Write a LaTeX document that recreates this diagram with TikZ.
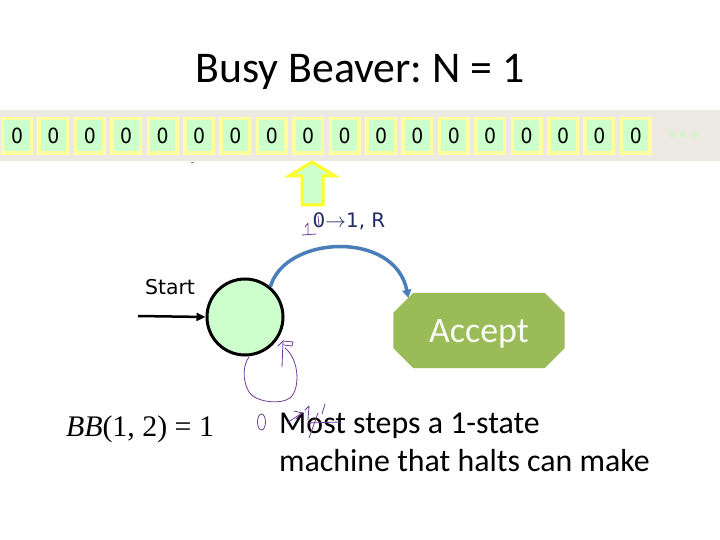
\documentclass[tikz,border=0pt]{standalone}
\usepackage{fontspec}
\setmainfont{Carlito}
\newfontfamily\vfont{DejaVu Sans}
\newfontfamily\vcfont{DejaVu Sans Condensed}
\newfontfamily\serifont{Liberation Serif}
\usetikzlibrary{arrows.meta,backgrounds}
\definecolor{tapebg}{RGB}{236,233,226}
\definecolor{cellyel}{RGB}{255,255,160}
\definecolor{cellgrn}{RGB}{204,255,204}
\definecolor{headyel}{RGB}{255,255,40}
\definecolor{stategrn}{RGB}{204,255,204}
\definecolor{acceptgrn}{RGB}{155,187,89}
\definecolor{arcblue}{RGB}{74,126,187}
\definecolor{labnavy}{RGB}{30,45,100}
\definecolor{inkpurple}{RGB}{112,60,150}
\definecolor{dotgrn}{RGB}{212,245,200}
\frenchspacing
\begin{document}
\begin{tikzpicture}[x=1bp,y=-1bp,
  cell/.style={draw=cellyel, line width=3.5bp, fill=cellgrn, minimum width=28.5bp,
    minimum height=34.5bp, inner sep=0pt, font=\vcfont\fontsize{21}{21}\selectfont},
  statenode/.style={circle, draw=black, line width=3bp, fill=stategrn,
    minimum size=76bp, inner sep=0pt},
  acceptnode/.style={rectangle, minimum width=171bp,
    minimum height=75bp, inner sep=0pt, text depth=0pt,
    text=white!94!acceptgrn, font=\fontsize{36}{36}\selectfont},
  inkline/.style={draw=inkpurple, line width=0.8bp, line cap=round, line join=round},
  plaintext/.style={inner sep=0pt}]
\useasboundingbox (0,0) rectangle (720,540);
\begin{scope}[on background layer]
\fill[white] (0,0) rectangle (720,540);
\end{scope}
% title
\node[plaintext, anchor=base, font=\fontsize{44}{44}\selectfont] (title) at (360,83) {Busy Beaver: N = 1};
% tape
\fill[tapebg] (0,110) rectangle (720,161);
\foreach \i in {0,...,17}{
  \node[cell] (c\i) at ({17+36.4*\i},136) {0};
}
\foreach \x in {672,683,695}{ \fill[dotgrn] (\x,135) circle (3); }
\draw[gray, line width=1bp] (191,163) -- (194,163);
% head
\draw[draw=headyel, fill=cellgrn, line width=3bp, line join=miter]
  (312,162) -- (335,176) -- (323,176) -- (323,205) -- (302,205) -- (302,176) -- (289,176) -- cycle;
% label
\node[plaintext, font=\vfont\fontsize{20}{20}\selectfont, text=labnavy] (tl) at (349,221) {0$\rightarrow$1, R};
% states
\node[statenode] (s) at (245,317) {};
\node[acceptnode] (acc) at (479,330.5) {Accept};
\begin{scope}[on background layer]
\fill[acceptgrn] ([xshift=20bp]acc.north west) -- ([xshift=-20bp]acc.north east)
  -- ([yshift=-20bp]acc.north east) -- ([yshift=20bp]acc.south east)
  -- ([xshift=-20bp]acc.south east) -- ([xshift=20bp]acc.south west)
  -- ([yshift=20bp]acc.south west) -- ([yshift=-20bp]acc.north west) -- cycle;
\end{scope}
\coordinate (accin) at ([xshift=15bp,yshift=-5bp]acc.north west);
\node[plaintext, font=\vfont\fontsize{20.5}{20.5}\selectfont] (startlbl) at (170,287) {Start};
\coordinate (st) at (138,316);
\draw[line width=2.5bp, -{Triangle[length=9bp,width=8bp]}] (st) -- (s.180);
\draw[arcblue, line width=3.5bp, -{Triangle[length=8bp,width=9bp]}]
  (s.50) .. controls (285,235) and (395,230) .. (accin);
% texts
\node[plaintext, anchor=base, font=\serifont\fontsize{30}{30}\selectfont] (bb) at (140,436) {\textit{BB}(1, 2) = 1};
\node[plaintext, anchor=base west, font=\fontsize{32}{32}\selectfont] (m1) at (279,433) {Most steps a 1-state};
\node[plaintext, anchor=base west, font=\fontsize{32}{32}\selectfont] (m2) at (279,471) {machine that halts can make};
% ink scribbles
\draw[inkline] (305,227) -- (308,223) -- (308,234);
\draw[inkline] (302,235) -- (316,234);
\draw[inkline] (318,216) -- (319,226);
\draw[inkline] (285,348) .. controls (300,360) and (300,390) .. (290,398)
  .. controls (280,405) and (255,402) .. (249,392)
  .. controls (242,380) and (243,365) .. (249,357);
\draw[inkline] (278,346) -- (283,341) -- (293,342) -- (292,346) -- (284,345);
\draw[inkline] (283,341) -- (282,367);
\draw[inkline] (261.5,422) ellipse [x radius=4, y radius=8];
\draw[inkline] (287,423) -- (302,413);
\draw[inkline] (294,411) -- (302,413) -- (296,419);
\draw[inkline] (305,410) -- (309,406) -- (308,420);
\draw[inkline] (325,404) -- (322,414);
\draw[inkline] (307,423) -- (340,422);
\draw[inkline] (318,413) -- (309,438);
\end{tikzpicture}
\end{document}
